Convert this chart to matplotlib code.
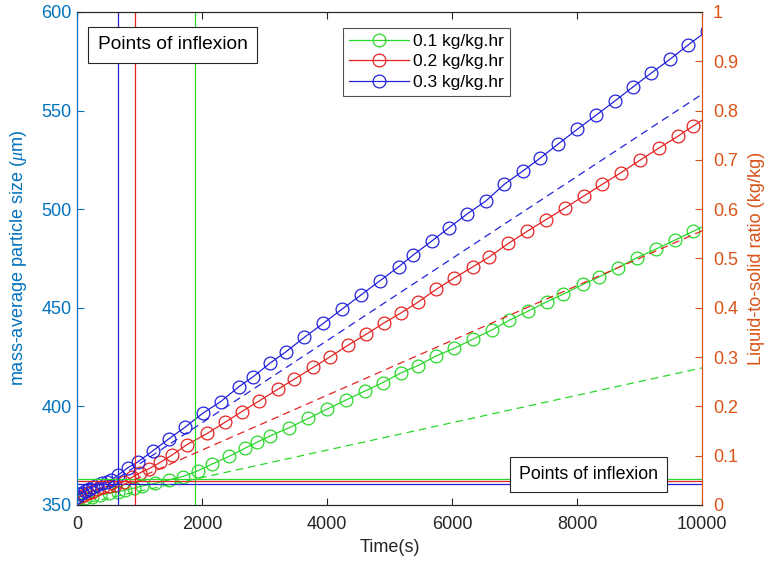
import matplotlib.pyplot as plt
import numpy as np

plt.rcParams['font.family'] = ['Liberation Sans', 'DejaVu Sans']
plt.rcParams['mathtext.fontset'] = 'custom'
plt.rcParams['mathtext.it'] = 'Liberation Serif:italic'

# particle size (left axis), one series per liquid addition rate
t_01 = [0, 130, 240, 370, 505, 655, 775, 905, 1040, 1255, 1470, 1690, 1940, 2165, 2430,
        2690, 2880, 3088, 3397, 3701, 3995, 4304, 4608, 4891, 5184, 5451, 5744, 6032,
        6331, 6635, 6917, 7221, 7515, 7781, 8091, 8357, 8661, 8955, 9259, 9568, 9861, 10160]
d_01 = [352.8, 353.4, 354.2, 355.1, 355.9, 356.7, 357.6, 358.5, 359.6, 361.0, 362.7, 364.4,
        367.4, 370.8, 374.6, 378.8, 381.8, 385.0, 389.2, 393.9, 398.5, 403.2, 407.8, 412.0,
        417.0, 420.6, 425.5, 429.4, 434.0, 438.7, 443.7, 448.3, 453.0, 456.9, 461.8, 465.7,
        470.4, 475.3, 479.7, 484.3, 488.8, 493.4]

t_02 = [0, 53, 107, 176, 240, 320, 411, 507, 613, 747, 880, 1013, 1147, 1333, 1520, 1760,
        2085, 2368, 2635, 2917, 3221, 3477, 3781, 4048, 4341, 4624, 4917, 5184, 5451, 5744,
        6037, 6331, 6597, 6901, 7205, 7504, 7808, 8112, 8405, 8704, 9008, 9312, 9611, 9851, 10150]
d_02 = [353.4, 354.2, 354.9, 355.9, 356.7, 357.9, 358.9, 359.6, 360.3, 361.8, 364.0, 366.4,
        368.3, 371.6, 375.3, 380.6, 386.3, 391.9, 397.3, 402.8, 408.8, 413.8, 419.8, 425.1,
        431.1, 436.5, 442.4, 447.4, 452.7, 459.3, 465.1, 470.7, 475.8, 482.6, 488.8, 494.7,
        500.6, 506.7, 512.6, 518.5, 524.8, 531.0, 536.9, 542.0, 548.0]

t_03 = [0, 37, 80, 133, 187, 251, 320, 400, 480, 549, 660, 810, 973, 1216, 1472, 1728, 2011,
        2299, 2592, 2821, 3088, 3344, 3637, 3941, 4245, 4544, 4848, 5147, 5381, 5680, 5952,
        6245, 6544, 6837, 7141, 7408, 7701, 8005, 8304, 8608, 8901, 9184, 9488, 9781, 10080]
d_03 = [354.2, 355.6, 356.2, 357.1, 358.0, 359.0, 360.0, 361.0, 361.8, 362.7, 365.2, 368.8,
        371.8, 377.5, 383.6, 389.4, 396.5, 402.4, 410.0, 415.1, 421.9, 427.7, 435.0, 442.1,
        449.4, 456.5, 463.7, 470.8, 476.8, 483.9, 490.6, 497.6, 504.2, 512.6, 519.5, 525.8,
        533.1, 540.5, 547.6, 554.9, 562.1, 568.9, 576.0, 583.3, 590.4]

# liquid-to-solid ratio (right axis), straight lines
t_ls = [0, 10000]
ls_01 = [0, 0.278]
ls_02 = [0, 0.556]
ls_03 = [0, 0.833]

# points of inflexion
t_inflex = [1880, 935, 660]
d_inflex = [363.2, 362.0, 360.6]

labels = ['0.1 kg/kg.hr', '0.2 kg/kg.hr', '0.3 kg/kg.hr']
colors = ['#2ad82a', '#e62222', '#2222dd']
left_col = '#0072BD'
right_col = '#D95319'
dark = '#262626'

fig = plt.figure(figsize=(7.71, 5.68), dpi=100)
ax = fig.add_axes([0.0999, 0.111, 0.8106, 0.868])
ax2 = ax.twinx()

handles = []
for t, d, c, lab in zip([t_01, t_02, t_03], [d_01, d_02, d_03], colors, labels):
    h, = ax.plot(t, d, '-o', color=c, lw=0.9, ms=9.2, mfc='none', mew=0.9, label=lab)
    handles.append(h)

for ls, c in zip([ls_01, ls_02, ls_03], colors):
    ax2.plot(t_ls, ls, '--', color=c, lw=0.9, dashes=(6, 4))

for tv, dv, c in zip(t_inflex, d_inflex, colors):
    ax.axvline(tv, color=c, lw=0.9)
    ax.axhline(dv, color=c, lw=0.9)

ax.set_xlim(0, 10000)
ax.set_ylim(350, 600)
ax2.set_ylim(0, 1)
ax.set_xticks(np.arange(0, 10001, 2000))
ax.set_yticks(np.arange(350, 601, 50))
ax2.set_yticks(np.arange(0, 1.01, 0.1))
ax2.set_yticklabels(['0', '0.1', '0.2', '0.3', '0.4', '0.5', '0.6', '0.7', '0.8', '0.9', '1'])

ax.tick_params(axis='x', direction='in', top=True, length=5, labelsize=13, colors=dark, pad=8)
ax.tick_params(axis='y', direction='in', length=5, labelsize=13, colors=left_col, pad=4)
ax2.tick_params(axis='y', direction='in', length=5, labelsize=13, colors=right_col, pad=8)

for a in (ax, ax2):
    a.spines['top'].set_color(dark)
    a.spines['bottom'].set_color(dark)
    a.spines['left'].set_color(left_col)
    a.spines['right'].set_color(right_col)
    for s in a.spines.values():
        s.set_linewidth(0.8)

ax.set_xlabel('Time(s)', fontsize=13, color=dark, labelpad=4)
ax.set_ylabel(r'mass-average particle size ($\mu$m)', fontsize=13, color=left_col, labelpad=9)
ax2.set_ylabel('Liquid-to-solid ratio (kg/kg)', fontsize=13, color=right_col, labelpad=7)

box = dict(boxstyle='square,pad=0.5', fc='white', ec=dark, lw=0.8)
ax2.text(0.153, 0.933, 'Points of inflexion', transform=ax.transAxes, ha='center', va='center',
         fontsize=13.8, color='black', bbox=box, zorder=10)
ax2.text(0.818, 0.061, 'Points of inflexion', transform=ax.transAxes, ha='center', va='center',
         fontsize=12.8, color='black', bbox=box, zorder=10)

leg = ax2.legend(handles, labels, loc='upper left', bbox_to_anchor=(0.4256, 0.9675), fontsize=12.6,
                 frameon=True, fancybox=False, edgecolor=dark, borderpad=0.35, labelspacing=0.28,
                 handlelength=3.4, handletextpad=0.25, borderaxespad=0)
leg.get_frame().set_linewidth(0.8)

plt.savefig('out.png', dpi=100)
plt.close()
